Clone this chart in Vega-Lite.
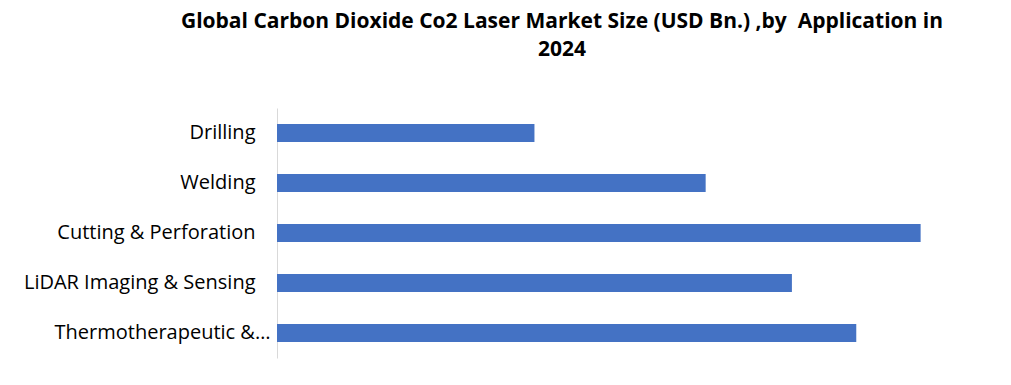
{
  "$schema": "https://vega.github.io/schema/vega-lite/v6.json",
  "autosize": "none",
  "width": 708,
  "height": 250,
  "padding": {"left": 277, "top": 108, "right": 26, "bottom": 27},
  "background": "white",
  "title": {
    "text": ["Global Carbon Dioxide Co2 Laser Market Size (USD Bn.) ,by \u00a0Application in", "2024"],
    "font": "Open Sans",
    "fontSize": 21,
    "fontWeight": "bold",
    "color": "#000000",
    "anchor": "middle",
    "dx": -69,
    "offset": 48,
    "lineHeight": 28
  },
  "data": {
    "values": [
      {"application": "Drilling", "value": 0.4},
      {"application": "Welding", "value": 0.666},
      {"application": "Cutting & Perforation", "value": 1.0},
      {"application": "LiDAR Imaging & Sensing", "value": 0.8},
      {"application": "Thermotherapeutic &…", "value": 0.9}
    ]
  },
  "mark": {"type": "bar", "color": "#4472C4"},
  "encoding": {
    "y": {
      "field": "application",
      "type": "nominal",
      "sort": null,
      "scale": {"paddingInner": 0.64, "paddingOuter": 0.32},
      "axis": {
        "title": null,
        "ticks": false,
        "domainColor": "#d9d9d9",
        "domainWidth": 1,
        "labelFont": "Open Sans",
        "labelFontSize": 20,
        "labelColor": "#000000",
        "labelLimit": 0,
        "labelPadding": {"condition": {"test": "datum.value === 'Thermotherapeutic &…'", "value": 7}, "value": 22}
      }
    },
    "x": {
      "field": "value",
      "type": "quantitative",
      "scale": {"domain": [0, 1.1]},
      "axis": null
    }
  },
  "config": {"view": {"stroke": null}}
}
